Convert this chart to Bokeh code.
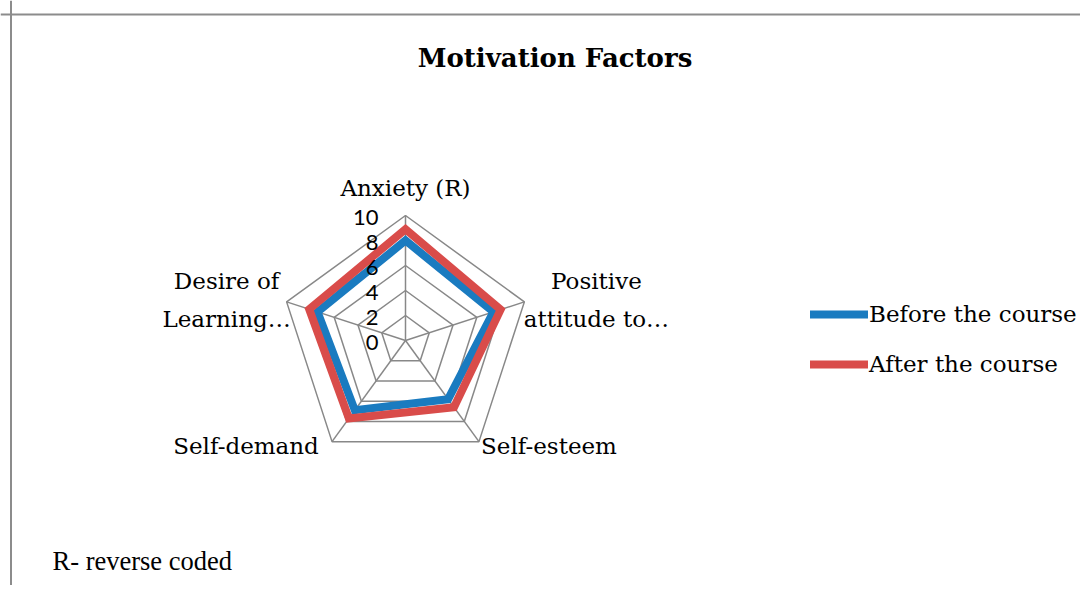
import numpy as np
from bokeh.plotting import figure
from bokeh.models import Range1d, Span, Legend, LegendItem, ColumnDataSource, Label
from bokeh.core.properties import value
from bokeh.embed import file_html
from bokeh.resources import INLINE

# ---------------- data ----------------
categories = ["Anxiety (R)", "Positive\nattitude to\u2026", "Self-esteem", "Self-demand", "Desire of\nLearning\u2026"]
before = [8.0, 7.4, 5.8, 6.9, 7.4]
after = [8.9, 8.0, 6.6, 7.7, 8.1]
ticks = [0, 2, 4, 6, 8, 10]
series_names = ["Before the course", "After the course"]
title_text = "Motivation Factors"
note_text = "R- reverse coded"

# ---------------- layout ----------------
W, H = 1080, 585
S = 12.5            # pixels per value unit
CX, CY = 405, 340   # radar centre in canvas pixels
RMAX = max(ticks)

def dx(px):
    return (px - CX) / S

def dy(py):
    return (CY - py) / S

n = len(categories)
ang = np.pi / 2 - 2 * np.pi * np.arange(n) / n

def polar(vals):
    v = np.asarray(vals, dtype=float)
    return v * np.cos(ang), v * np.sin(ang)

p = figure(width=W, height=H, x_range=Range1d(-CX / S, (W - CX) / S),
           y_range=Range1d(-(H - CY) / S, CY / S),
           output_backend="svg", toolbar_location=None, min_border=0,
           x_axis_location=None, y_axis_location=None, outline_line_color=None)
p.grid.visible = False
p.background_fill_color = "white"
p.border_fill_color = "white"

# border of the chart area (left and top visible)
p.add_layout(Span(location=dx(10.5), dimension="height", line_color="#8c8c8c", line_width=2))
p.add_layout(Span(location=dy(14), dimension="width", line_color="#8c8c8c", line_width=2))

# grid rings and spokes
grid_col = "#888888"
ring_xs, ring_ys = [], []
for t in ticks[1:]:
    x, y = polar([t] * n)
    ring_xs.append(list(np.append(x, x[0])))
    ring_ys.append(list(np.append(y, y[0])))
p.multi_line(ring_xs, ring_ys, line_color=grid_col, line_width=1.5)
ex, ey = polar([RMAX] * n)
p.segment(x0=[0] * n, y0=[0] * n, x1=list(ex), y1=list(ey), line_color=grid_col, line_width=1.5)

# series
def closed(vals):
    x, y = polar(vals)
    return list(np.append(x, x[:2])), list(np.append(y, y[:2]))

bx, by = closed(before)
ax, ay = closed(after)
r_before = p.line(bx, by, line_color="#1a7bc0", line_width=8, line_join="miter", line_cap="round")
r_after = p.line(ax, ay, line_color="#d94c4a", line_width=8, line_join="miter", line_cap="round")

# category labels
lab_off_x = [0, 72, 70, -86, -60]
lab_off_y = [-28, -2, 4, 4, -2]
lsrc = ColumnDataSource(dict(x=list(ex), y=list(ey), t=categories, ox=lab_off_x, oy=lab_off_y))
p.text(x="x", y="y", text="t", x_offset="ox", y_offset="oy", source=lsrc,
       text_font=value("DejaVu Serif"), text_font_size="23px", text_color="black",
       text_align="center", text_baseline="middle", text_line_height=1.45)

# radial tick labels
tsrc = ColumnDataSource(dict(x=[0] * len(ticks), y=ticks, t=[str(t) for t in ticks]))
p.text(x="x", y="y", text="t", source=tsrc, x_offset=-27, y_offset=1.5,
       text_font=value("Lato"), text_font_size="22px", text_color="black",
       text_align="right", text_baseline="middle")

# title
p.add_layout(Label(x=dx(554.5), y=dy(57), text=title_text, text_font="DejaVu Serif",
                   text_font_style="bold", text_font_size="26px", text_color="black",
                   text_align="center", text_baseline="middle"))

# note
p.add_layout(Label(x=dx(52), y=dy(560), text=note_text, text_font="Liberation Serif",
                   text_font_size="26.5px", text_color="black",
                   text_align="left", text_baseline="middle"))

# legend
legend = Legend(items=[LegendItem(label=series_names[0], renderers=[r_before]),
                       LegendItem(label=series_names[1], renderers=[r_after])],
                location=(810, 208), orientation="vertical",
                glyph_width=58, glyph_height=24, label_height=24, spacing=24,
                padding=0, margin=0, label_standoff=1,
                label_text_font="DejaVu Serif", label_text_font_size="23px",
                label_text_color="black",
                border_line_color=None, background_fill_alpha=0)
p.add_layout(legend)

open("out.html", "w").write(file_html(p, INLINE))
